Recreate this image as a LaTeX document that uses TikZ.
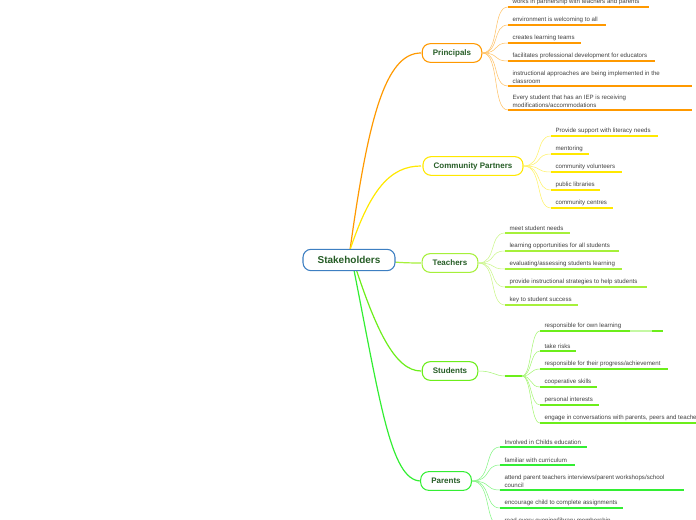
\documentclass[tikz,border=0pt]{standalone}
\usepackage{fontspec}
\setmainfont{Liberation Sans}
\begin{document}
\begin{tikzpicture}[x=0.75pt,y=-0.75pt,
  main/.style={draw=#1,line width=0.8pt,rounded corners=6pt,fill=white,minimum height=14pt,inner xsep=8pt,font=\fontsize{6}{7}\selectfont\bfseries,text=green!25!black!85},
  leaf/.style={anchor=south west,inner sep=1pt,font=\fontsize{4.6}{5.6}\selectfont,text=black!75,align=left},
  ul/.style={draw=#1,line width=1.1pt},
  br/.style={draw=#1,line width=0.5pt},
  br2/.style={draw=#1!60,line width=0.4pt}]
\useasboundingbox (0,0) rectangle (696,520);
\definecolor{cO}{HTML}{FF9900}
\definecolor{cY}{HTML}{FFE800}
\definecolor{cT}{HTML}{A6F03A}
\definecolor{cS}{HTML}{6CEE1A}
\definecolor{cP}{HTML}{33EE33}
\definecolor{cB}{HTML}{3D7FC2}
% trunk connectors
\coordinate (root) at (350,250);
\draw[br=cO,line width=0.9pt] (root) .. controls (368,120) and (385,53) .. (421,53);
\draw[br=cY,line width=0.9pt] (root) .. controls (370,190) and (390,166) .. (421,166);
\draw[br=cT,line width=0.9pt] (root) .. controls (370,262) and (400,263) .. (421,263);
\draw[br=cS,line width=0.9pt] (root) .. controls (375,330) and (395,371) .. (421,371);
\draw[br=cP,line width=0.9pt] (root) .. controls (380,400) and (390,481) .. (421,481);
\node[main=cB,minimum width=69pt,minimum height=16pt,font=\fontsize{7.5}{9}\selectfont\bfseries] (stake) at (349,260) {Stakeholders};
\node[main=cO] (prin) at (452,53) {Principals};
\node[main=cY] (comm) at (473,166) {Community Partners};
\node[main=cT] (teach) at (450,263) {Teachers};
\node[main=cS] (stud) at (450,371) {Students};
\node[main=cP] (par) at (446,481) {Parents};
% Principals
\foreach \i/\y/\e/\t in {1/7/649/{works in partnership with teachers and parents},
  2/25/606/{environment is welcoming to all},
  3/43/581/{creates learning teams},
  4/61/655/{facilitates professional development for educators},
  5/86/692/{instructional approaches are being implemented in the\\classroom},
  6/110/692/{Every student that has an IEP is receiving\\modifications/accommodations}}{
  \coordinate (p\i) at (508,\y);
  \draw[br2=cO] (prin.east) .. controls (500,53) and (492,\y) .. (p\i);
  \draw[ul=cO] (p\i) -- (\e,\y);
  \node[leaf] (pl\i) at (511,\y-1) {\t};
}
% Community
\foreach \i/\y/\e/\t in {1/136/658/{Provide support with literacy needs},
  2/154/589/{mentoring},3/172/622/{community volunteers},
  4/190/600/{public libraries},5/208/613/{community centres}}{
  \coordinate (c\i) at (551,\y);
  \draw[br2=cY] (comm.east) .. controls (543,166) and (535,\y) .. (c\i);
  \draw[ul=cY] (c\i) -- (\e,\y);
  \node[leaf] (cl\i) at (554,\y-1) {\t};
}
% Teachers
\foreach \i/\y/\e/\t in {1/233/570/{meet student needs},
  2/251/619/{learning opportunities for all students},
  3/269/622/{evaluating/assessing students learning},
  4/287/647/{provide instructional strategies to help students},
  5/305/578/{key to student success}}{
  \coordinate (t\i) at (505,\y);
  \draw[br2=cT] (teach.east) .. controls (497,263) and (489,\y) .. (t\i);
  \draw[ul=cT] (t\i) -- (\e,\y);
  \node[leaf] (tl\i) at (508,\y-1) {\t};
}
% Students
\coordinate (sh) at (505,376);
\coordinate (sh2) at (522,376);
\draw[br2=cS] (stud.east) .. controls (493,371) and (495,376) .. (sh);
\draw[ul=cS] (sh) -- (sh2);
\foreach \i/\y/\e/\t in {1/331/630/{responsible for own learning},
  2/351/576/{take risks},3/369/668/{responsible for their progress/achievement},
  4/387/597/{cooperative skills},5/405/599/{personal interests},
  6/423/696/{engage in conversations with parents, peers and teachers}}{
  \coordinate (s\i) at (540,\y);
  \draw[br2=cS] (sh2) .. controls (532,376) and (530,\y) .. (s\i);
  \draw[ul=cS] (s\i) -- (\e,\y);
  \node[leaf] (sl\i) at (543,\y-1) {\t};
}
\draw[ul=cS!40] (630,331) -- (652,331);
\draw[ul=cS] (652,331) -- (663,331);
% Parents
\foreach \i/\y/\e/\t in {1/447/587/{Involved in Childs education},
  2/465/575/{familiar with curriculum},
  3/490/684/{attend parent teachers interviews/parent workshops/school\\council},
  4/508/623/{encourage child to complete assignments},
  5/526/640/{read every evening/library membership}}{
  \coordinate (q\i) at (500,\y);
  \draw[br2=cP] (par.east) .. controls (492,481) and (484,\y) .. (q\i);
  \draw[ul=cP] (q\i) -- (\e,\y);
  \node[leaf] (ql\i) at (503,\y-1) {\t};
}
\end{tikzpicture}
\end{document}
